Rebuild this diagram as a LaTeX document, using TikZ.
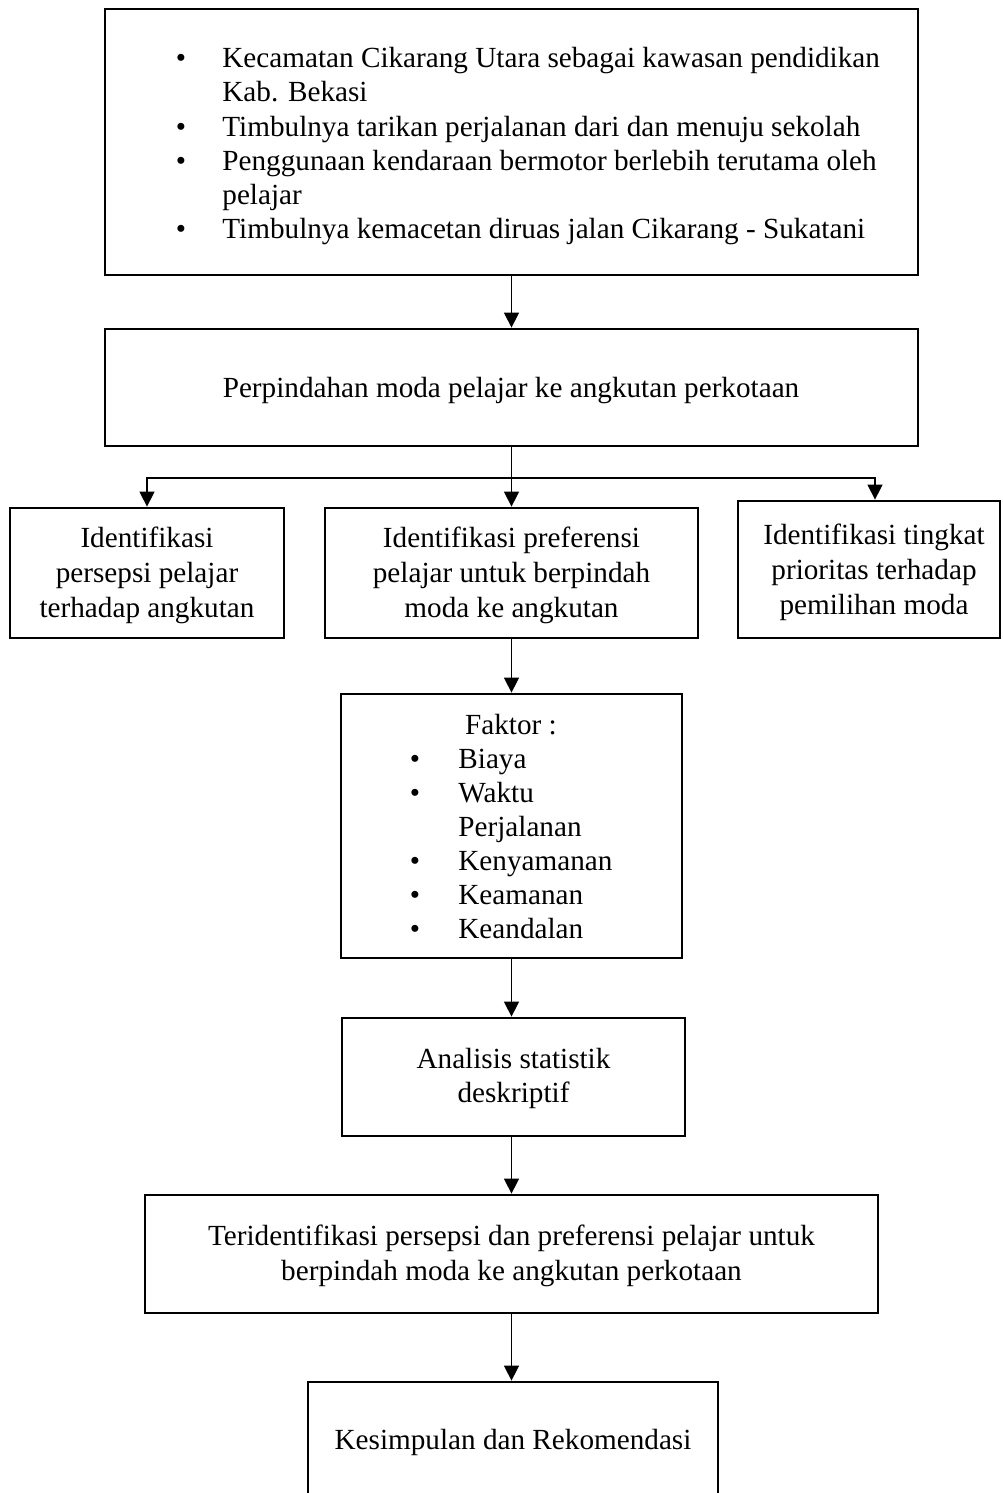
\documentclass[tikz,border=0pt]{standalone}
\usepackage{fontspec}
\setmainfont{Liberation Serif}
\usetikzlibrary{arrows.meta,calc}
\begin{document}
\begin{tikzpicture}[x=0.5pt,y=-0.5pt,
  boxsty/.style n args={2}{draw, line width=1.4pt, inner sep=0pt,
    minimum width=#1*0.5pt, minimum height=#2*0.5pt},
  txt/.style={inner sep=0pt, font=\fontsize{14.6}{17}\selectfont},
  conn/.style={line width=0.75pt},
  arr/.style={conn, -{Triangle[length=7.5pt,width=7.5pt]}}]
\useasboundingbox (0,0) rectangle (1002,1493);
\clip (0,0) rectangle (1002,1493);

% boxes
\node[boxsty={813}{266}] (b1) at (511.5,142) {};
\node[boxsty={813}{117}] (b2) at (511.5,387.5) {};
\node[boxsty={274}{130}] (b3a) at (147,573) {};
\node[boxsty={373}{130}] (b3b) at (511.5,573) {};
\node[boxsty={262}{137}] (b3c) at (869,569.5) {};
\node[boxsty={341}{264}] (b4) at (511.5,826) {};
\node[boxsty={343}{118}] (b5) at (513.5,1077) {};
\node[boxsty={733}{118}] (b6) at (511.5,1254) {};
\node[boxsty={410}{148}] (b7) at (513,1456) {};

% text of box 1
\node[txt,anchor=base] (t1b1) at (181,68) {•};
\node[txt,anchor=base west] (t1l1) at (222,68) {Kecamatan Cikarang Utara sebagai kawasan pendidikan};
\node[txt,anchor=base west] (t1l2) at (222,102) {Kab. Bekasi};
\node[txt,anchor=base] (t1b3) at (181,136) {•};
\node[txt,anchor=base west] (t1l3) at (222,136) {Timbulnya tarikan perjalanan dari dan menuju sekolah};
\node[txt,anchor=base] (t1b4) at (181,170) {•};
\node[txt,anchor=base west] (t1l4) at (222,170) {Penggunaan kendaraan bermotor berlebih terutama oleh};
\node[txt,anchor=base west] (t1l5) at (222,204) {pelajar};
\node[txt,anchor=base] (t1b6) at (181,238) {•};
\node[txt,anchor=base west] (t1l6) at (222,238) {Timbulnya kemacetan diruas jalan Cikarang - Sukatani};

% box 2
\node[txt,anchor=base] (t2) at (511,397) {Perpindahan moda pelajar ke angkutan perkotaan};

% box 3a
\node[txt,anchor=base] (t3a1) at (147,547) {Identifikasi};
\node[txt,anchor=base] (t3a2) at (147,582) {persepsi pelajar};
\node[txt,anchor=base] (t3a3) at (147,617) {terhadap angkutan};
% box 3b
\node[txt,anchor=base] (t3b1) at (511.5,547) {Identifikasi preferensi};
\node[txt,anchor=base] (t3b2) at (511.5,582) {pelajar untuk berpindah};
\node[txt,anchor=base] (t3b3) at (511.5,617) {moda ke angkutan};
% box 3c
\node[txt,anchor=base] (t3c1) at (874,544) {Identifikasi tingkat};
\node[txt,anchor=base] (t3c2) at (874,579) {prioritas terhadap};
\node[txt,anchor=base] (t3c3) at (874,614) {pemilihan moda};

% box 4
\node[txt,anchor=base] (t4h) at (511,734) {Faktor :};
\node[txt,anchor=base] (t4b1) at (415,768) {•};
\node[txt,anchor=base west] (t4l1) at (458,768) {Biaya};
\node[txt,anchor=base] (t4b2) at (415,802) {•};
\node[txt,anchor=base west] (t4l2) at (458,802) {Waktu};
\node[txt,anchor=base west] (t4l3) at (458,836) {Perjalanan};
\node[txt,anchor=base] (t4b4) at (415,870) {•};
\node[txt,anchor=base west] (t4l4) at (458,870) {Kenyamanan};
\node[txt,anchor=base] (t4b5) at (415,904) {•};
\node[txt,anchor=base west] (t4l5) at (458,904) {Keamanan};
\node[txt,anchor=base] (t4b6) at (415,938) {•};
\node[txt,anchor=base west] (t4l6) at (458,938) {Keandalan};

% box 5
\node[txt,anchor=base] (t5a) at (513.5,1068) {Analisis statistik};
\node[txt,anchor=base] (t5b) at (513.5,1102) {deskriptif};

% box 6
\node[txt,anchor=base] (t6a) at (511.5,1245) {Teridentifikasi persepsi dan preferensi pelajar untuk};
\node[txt,anchor=base] (t6b) at (511.5,1280) {berpindah moda ke angkutan perkotaan};

% box 7
\node[txt,anchor=base] (t7) at (513,1449) {Kesimpulan dan Rekomendasi};

% connectors
\coordinate (sp) at (511.5,478);
\draw[arr] (b1.south) -- (b2.north);
\draw[conn] (b2.south) -- (sp);
\draw[arr] (sp) -| (b3a.north);
\draw[arr] (sp) -- (b3b.north);
\draw[arr] (sp) -| ([xshift=3pt]b3c.north);
\draw[arr] (b3b.south) -- (b4.north);
\draw[arr] (b4.south) -- (b4.south |- b5.north);
\draw[arr] (b5.south -| b4.south) -- (b4.south |- b6.north);
\draw[arr] (b6.south) -- (b6.south |- b7.north);
\end{tikzpicture}
\end{document}
